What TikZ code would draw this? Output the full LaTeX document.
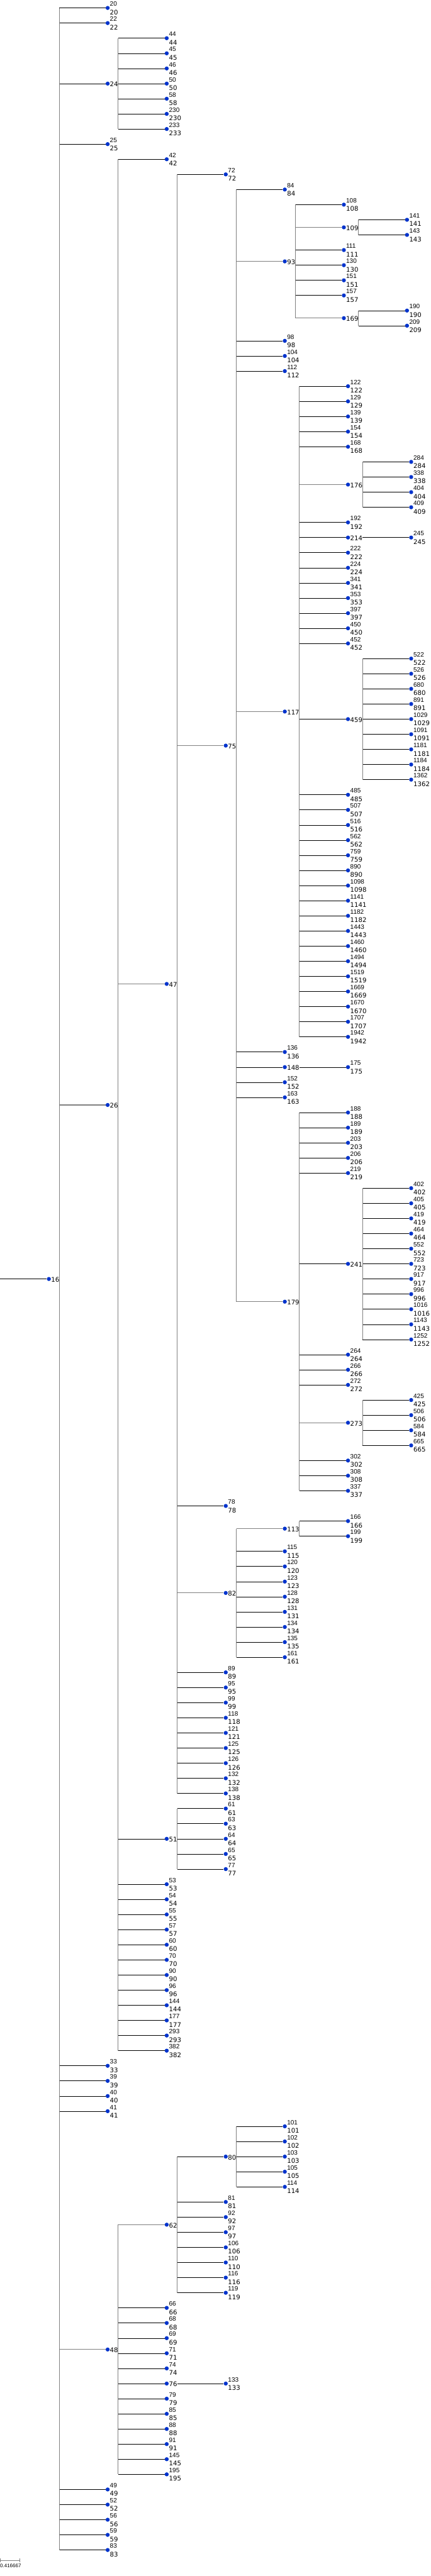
\documentclass[tikz,border=0pt]{standalone}
\usepackage{fontspec}
\setmainfont{DejaVu Sans}
\newfontfamily\upfont{Liberation Sans}
\definecolor{dotblue}{HTML}{0033CC}
\definecolor{lgray}{HTML}{808080}
\tikzset{
 dot/.style={circle, fill=dotblue, draw=none, minimum size=10.4pt, inner sep=0pt},
 uplab/.style={anchor=base west, inner sep=0pt, font=\upfont\fontsize{16.3}{18}\selectfont},
 lowlab/.style={anchor=base west, inner sep=0pt, font=\fontsize{16.5}{18}\selectfont},
 inlab/.style={anchor=base west, inner sep=0pt, font=\fontsize{16.5}{18}\selectfont},
 edge/.style={draw=black, line width=1pt},
 gedge/.style={draw=lgray, line width=1.9pt},
 vline/.style={draw=lgray, line width=1.3pt},
 sblab/.style={anchor=base west, inner sep=0pt, font=\upfont\fontsize{13}{14}\selectfont},
}
\newcommand\LF[3]{%
 \node[dot] (n#1) at (#2,#3) {};
 \node[uplab] (n#1a) at ([xshift=5.7pt,yshift=4.6pt]n#1.center) {#1};
 \node[lowlab] (n#1b) at ([xshift=5.7pt,yshift=-17pt]n#1.center) {#1};}
\newcommand\IN[3]{%
 \node[dot] (n#1) at (#2,#3) {};
 \node[inlab] (n#1t) at ([xshift=5.7pt,yshift=-8.1pt]n#1.center) {#1};}
\newcommand\ED[3][edge]{\draw[#1] (n#2t.east |- n#3) -- (n#3);}
\newcommand\VL[3]{\draw[vline] (n#1t.east |- n#2) -- (n#1t.east |- n#3);}
\newcommand\LEAVES[3]{\foreach \n/\r in {#3} {\LF{\n}{#2}{\r}\ED{#1}{\n}}}
\begin{document}
\begin{tikzpicture}[x=1pt,y=-39.02pt]
\useasboundingbox (0,-0.52537) rectangle (1110,169.7206);
% root
\IN{16}{126}{84}
\coordinate (rin) at (0,84);
\draw[edge] (rin) -- (n16);
% level 1
\IN{24}{277.5}{5}
\IN{26}{277.5}{72.5}
\IN{48}{277.5}{154.75}
\ED{16}{24} \ED[gedge]{16}{26} \ED[gedge]{16}{48}
\LEAVES{16}{277.5}{20/0,22/1,25/9,33/136,39/137,40/138,41/139,49/164,52/165,56/166,59/167,83/168}
\VL{16}{20}{83}
% 24
\LEAVES{24}{429.7}{44/2,45/3,46/4,50/5,58/6,230/7,233/8}
\VL{24}{44}{233}
% 26
\IN{47}{429.7}{64.5} \IN{51}{429.7}{121}
\ED[gedge]{26}{47} \ED{26}{51}
\LEAVES{26}{429.7}{42/10,53/124,54/125,55/126,57/127,60/128,70/129,90/130,96/131,144/132,177/133,293/134,382/135}
\VL{26}{42}{382}
% 47
\IN{75}{581.9}{48.75} \IN{82}{581.9}{104.75}
\ED[gedge]{47}{75} \ED[gedge]{47}{82}
\LEAVES{47}{581.9}{72/11,78/99,89/110,95/111,99/112,118/113,121/114,125/115,126/116,132/117,138/118}
\VL{47}{72}{138}
% 51
\LEAVES{51}{581.9}{61/119,63/120,64/121,65/122,77/123}
\VL{51}{61}{77}
% 75
\IN{93}{734.1}{16.75} \IN{117}{734.1}{46.5} \IN{148}{734.1}{70} \IN{179}{734.1}{85.5}
\ED[gedge]{75}{93} \ED[gedge]{75}{117} \ED{75}{148} \ED[gedge]{75}{179}
\LEAVES{75}{734.1}{84/12,98/22,104/23,112/24,136/69,152/71,163/72}
\VL{75}{84}{179}
% 93
\IN{109}{886.3}{14.5} \IN{169}{886.3}{20.5}
\ED[gedge]{93}{109} \ED[gedge]{93}{169}
\LEAVES{93}{886.3}{108/13,111/16,130/17,151/18,157/19}
\VL{93}{108}{169}
\LEAVES{109}{1049.1}{141/14,143/15} \VL{109}{141}{143}
\LEAVES{169}{1049.1}{190/20,209/21} \VL{169}{190}{209}
% 117
\IN{176}{897}{31.5} \IN{214}{897}{35} \IN{459}{897}{47}
\ED[gedge]{117}{176} \ED{117}{214} \ED{117}{459}
\LEAVES{117}{897}{122/25,129/26,139/27,154/28,168/29,192/34,222/36,224/37,341/38,353/39,397/40,450/41,452/42,485/52,507/53,516/54,562/55,759/56,890/57,1098/58,1141/59,1182/60,1443/61,1460/62,1494/63,1519/64,1669/65,1670/66,1707/67,1942/68}
\VL{117}{122}{1942}
\LEAVES{176}{1059.8}{284/30,338/31,404/32,409/33} \VL{176}{284}{409}
\LEAVES{214}{1059.8}{245/35}
\LEAVES{459}{1059.8}{522/43,526/44,680/45,891/46,1029/47,1091/48,1181/49,1184/50,1362/51} \VL{459}{522}{1362}
% 148
\LEAVES{148}{897}{175/70}
% 179
\IN{241}{897}{83} \IN{273}{897}{93.5}
\ED{179}{241} \ED[gedge]{179}{273}
\LEAVES{179}{897}{188/73,189/74,203/75,206/76,219/77,264/89,266/90,272/91,302/96,308/97,337/98}
\VL{179}{188}{337}
\LEAVES{241}{1059.8}{402/78,405/79,419/80,464/81,552/82,723/83,917/84,996/85,1016/86,1143/87,1252/88} \VL{241}{402}{1252}
\LEAVES{273}{1059.8}{425/92,506/93,584/94,665/95} \VL{273}{425}{665}
% 82
\IN{113}{734.1}{100.5}
\ED[gedge]{82}{113}
\LEAVES{82}{734.1}{115/102,120/103,123/104,128/105,131/106,134/107,135/108,161/109}
\VL{82}{113}{161}
\LEAVES{113}{897}{166/100,199/101} \VL{113}{166}{199}
% 48
\IN{62}{429.7}{146.5} \IN{76}{429.7}{157}
\ED[gedge]{48}{62} \ED{48}{76}
\LEAVES{48}{429.7}{66/152,68/153,69/154,71/155,74/156,79/158,85/159,88/160,91/161,145/162,195/163}
\VL{48}{62}{195}
\IN{80}{581.9}{142}
\ED{62}{80}
\LEAVES{62}{581.9}{81/145,92/146,97/147,106/148,110/149,116/150,119/151}
\VL{62}{80}{119}
\LEAVES{80}{734.1}{101/140,102/141,103/142,105/143,114/144} \VL{80}{101}{114}
\LEAVES{76}{581.9}{133/157}
% scale bar
\coordinate (sbL) at (1,168.69);
\coordinate (sbR) at (51,168.69);
\draw[vline] (sbL) -- (sbR);
\draw[vline] ([yshift=4.7pt]sbL) -- ([yshift=-4.7pt]sbL);
\draw[vline] ([yshift=4.7pt]sbR) -- ([yshift=-4.7pt]sbR);
\node[sblab] (sbtext) at (0,169.16) {0.416667};
\end{tikzpicture}
\end{document}
